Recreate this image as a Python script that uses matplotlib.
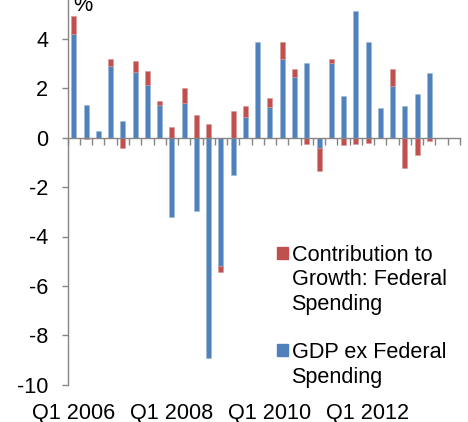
import numpy as np
import matplotlib
matplotlib.use("Agg")
import matplotlib.pyplot as plt
from matplotlib.patches import Rectangle
import matplotlib.transforms as mtransforms

# ---- data ----
quarters = [f"Q{q} {y}" for y in range(2006, 2014) for q in range(1, 5)]
gdp_ex_federal = [4.2, 1.32, 0.27, 2.89, 0.66, 2.65, 2.13, 1.32,
                  -3.2, 1.42, -2.95, -8.93, -5.2, -1.5, 0.83, 3.89,
                  1.26, 3.17, 2.47, 3.02, -0.4, 3.02, 1.68, 5.14,
                  3.89, 1.2, 2.1, 1.27, 1.76, 2.61, np.nan, np.nan]
federal_contrib = [0.73, -0.06, 0.0, 0.3, -0.4, 0.45, 0.57, 0.18,
                   0.45, 0.58, 0.9, 0.55, -0.25, 1.08, 0.45, 0.0,
                   0.33, 0.72, 0.31, -0.25, -0.95, 0.17, -0.3, -0.26,
                   -0.22, 0.0, 0.68, -1.21, -0.7, -0.13, np.nan, np.nan]
label_every = 8
legend_labels = ["Contribution to\nGrowth: Federal\nSpending", "GDP ex Federal\nSpending"]
yticks = [-10, -8, -6, -4, -2, 0, 2, 4]

BLUE = "#4F81BD"
RED = "#C0504D"
GRAY = "#868686"
FS = 15.6
plt.rcParams['font.family'] = ['Liberation Sans', 'DejaVu Sans']

W, H = 468, 422
fig = plt.figure(figsize=(W / 100, H / 100), dpi=100)

def fx(px):
    return px / W

def fy(py):
    return (H - py) / H

left_px, right_px = 67.7, 460.0
zero_px, unit_px = 137.7, 24.7
ymin, ymax = -10, 6
bottom_px = zero_px - ymin * unit_px
top_px = zero_px - ymax * unit_px
ax = fig.add_axes([fx(left_px), fy(bottom_px), fx(right_px - left_px), (bottom_px - top_px) / H])

n = len(quarters)
x = np.arange(n)
blue = np.array(gdp_ex_federal, dtype=float)
red = np.array(federal_contrib, dtype=float)
red_bottom = np.where(np.sign(red) == np.sign(blue), blue, 0.0)

bw = 0.41
ax.bar(x, blue, width=bw, color=BLUE, edgecolor="#9DB7D8", linewidth=0.4, zorder=2)
ax.bar(x, red, width=bw, bottom=red_bottom, color=RED, edgecolor="#D99694", linewidth=0.4, zorder=2)

ax.set_xlim(-0.5, n - 0.5)
ax.set_ylim(ymin, ymax)

for s in ["top", "right"]:
    ax.spines[s].set_visible(False)
ax.spines["bottom"].set_position(("data", 0))
for s in ["left", "bottom"]:
    ax.spines[s].set_color(GRAY)
    ax.spines[s].set_linewidth(1.0)
    ax.spines[s].set_zorder(3)

ax.set_xticks(np.arange(-0.5, n, 1.0))
ax.set_xticklabels([])
ax.tick_params(axis="x", direction="out", length=4.8, width=1.0, color=GRAY)
ax.set_yticks(yticks)
ax.set_yticklabels([str(v) for v in yticks])
ax.tick_params(axis="y", direction="out", length=4.3, width=1.0, color=GRAY,
               pad=9.6, labelsize=FS)

trans = mtransforms.blended_transform_factory(ax.transData, fig.transFigure)
for i in range(0, n, label_every):
    ax.text(x[i], fy(402.7), quarters[i], transform=trans, ha="center", va="top",
            fontsize=FS, clip_on=False)

# unit label and (mostly cropped) title
fig.text(fx(73), fy(11.3), "%", ha="left", va="baseline", fontsize=FS)
fig.text(fx(88.8), fy(-5.5), "Real GDP growth, govt share", ha="left", va="baseline", fontsize=FS)

# legend
entries = [(RED, legend_labels[0], 245.0), (BLUE, legend_labels[1], 342.3)]
for color, lab, top in entries:
    fig.patches.append(Rectangle((fx(276.5), fy(top + 13.5)), fx(11.8), 11.8 / H,
                                 transform=fig.transFigure, color=color, figure=fig))
    fig.text(fx(291.5), fy(top), lab, ha="left", va="top", fontsize=FS, linespacing=1.21)

fig.savefig("out.png", dpi=100)
